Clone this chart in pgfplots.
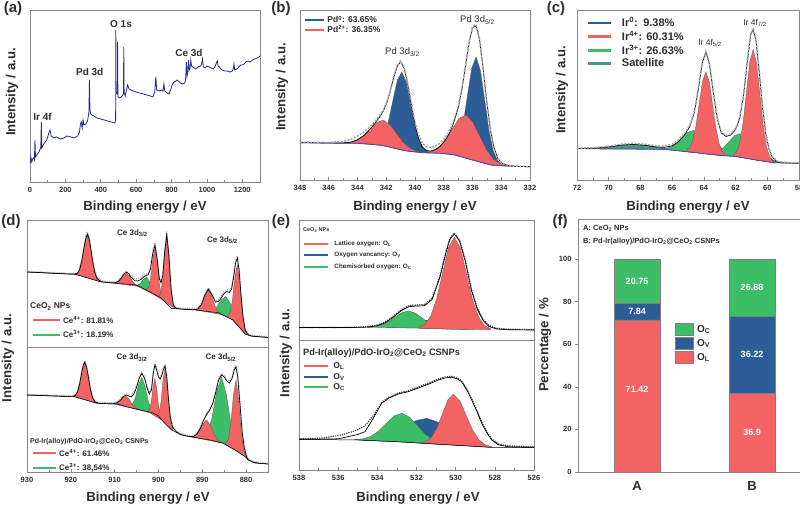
\documentclass[border=0pt]{standalone}
\usepackage{fontspec}
\setmainfont{Liberation Sans}
\usepackage{pgfplots}
\pgfplotsset{compat=1.18}
\definecolor{cred}{RGB}{243,99,99}
\definecolor{cblue}{RGB}{45,93,150}
\definecolor{cgreen}{RGB}{60,190,105}
\definecolor{cteal}{RGB}{70,150,140}
\definecolor{cnavy}{RGB}{35,42,145}
\definecolor{cbg}{RGB}{85,70,175}
\definecolor{ctxt}{RGB}{45,45,45}
\definecolor{cframe}{RGB}{135,135,135}
\newcommand{\fs}[1]{\fontsize{#1}{#1}\selectfont}
\pgfplotsset{
 base/.style={scale only axis, anchor=south west, no markers,
   axis line style={draw=cframe, line width=0.8pt},
   tick style={draw=cframe, line width=0.6pt},
   major tick length=2.5pt, minor tick length=1.5pt,
   ytick=\empty, xtick pos=bottom, xtick align=inside,
   tick label style={font=\fs{7.5}\bfseries, text=ctxt},
   xticklabel style={yshift=-2pt},
   /pgf/number format/assume math mode=true,
   /pgf/number format/set thousands separator={},
   enlargelimits=false, legend cell align=left},
 comp/.style={fill=#1, draw=black!65, line width=0.3pt},
 env/.style={black, line width=0.7pt},
 datb/.style={gray!70, line width=1.5pt, dash pattern=on 2pt off 1.4pt},
 datd/.style={gray!65, line width=1.7pt, line cap=round, dash pattern=on 0pt off 2.3pt},
 legl/.style={legend style={draw=none, fill=none, inner sep=0pt, outer sep=0pt, row sep=#1, nodes={inner sep=0.5pt, text=ctxt}}},
}
\begin{document}
\begin{tikzpicture}[x=1pt,y=1pt]
\useasboundingbox (0,0) rectangle (800,510);

% ---------------- (a) survey
\begin{axis}[base, at={(30pt,328pt)}, width=230pt, height=172pt, xmin=0, xmax=1300, ymin=0, ymax=172,
  xtick={0,200,...,1200}, minor x tick num=1]
\addplot[cnavy, line width=0.8pt] coordinates {(0,18) (5,25) (10,20) (15,23) (20,24) (25,22) (28,42) (31,25) (40,27) (50,30) (58,33) (61,35) (64,60) (67,34) (75,37) (85,40) (95,42) (105,48) (113,52) (120,46) (135,44) (150,45) (170,43) (190,44) (210,46) (230,45) (250,44) (270,46) (280,50) (285,58) (290,60) (295,54) (300,62) (305,57) (315,58) (325,61) (333,70) (336,102) (339,72) (343,68) (350,67) (360,66) (380,64) (400,63) (420,62) (440,61) (460,60) (480,59) (484,62) (485,152) (487,90) (494,88) (495,140) (497,85) (505,84) (515,85) (524,87) (528,88) (530,135) (532,90) (538,86) (545,92) (552,97) (560,93) (570,92) (585,91) (600,90) (620,89) (640,88) (660,87) (680,86) (695,85) (705,90) (711,105) (716,92) (730,91) (745,92) (752,91) (757,98) (762,91) (775,89) (786,88) (795,92) (805,98) (815,100) (833,102) (850,99) (862,98) (875,99) (880,104) (884,120) (888,106) (892,110) (896,122) (900,112) (905,114) (909,122) (913,116) (920,115) (930,114) (937,113) (950,115) (965,116) (970,118) (975,123) (980,115) (990,114) (1000,116) (1012,115) (1025,114) (1035,113) (1045,115) (1050,117) (1055,120) (1059,121) (1063,116) (1070,115) (1085,112) (1100,111) (1115,111) (1130,110) (1144,111) (1150,114) (1153,118) (1157,112) (1170,113) (1180,115) (1191,117) (1200,117) (1210,118) (1219,120) (1230,121) (1245,120) (1257,122) (1270,123) (1285,124) (1294,125) (1300,126)};
\end{axis}

% ---------------- (b) Pd 3d
\begin{axis}[base, at={(300pt,330pt)}, width=230pt, height=170pt, x dir=reverse, xmin=332, xmax=348, ymin=0, ymax=170,
  xtick={332,334,...,348}, minor x tick num=1, legl=0pt,
  legend style={at={(0.017,0.968)}, anchor=north west, font=\fs{8.5}\bfseries, /tikz/every odd column/.append style={column sep=2pt}},
  legend image code/.code={\draw[#1, line width=2pt] (0pt,0pt) -- (19pt,0pt);}]
\addlegendimage{cblue}\addlegendentry{Pd\textsuperscript{0}: 63.65\%}
\addlegendimage{cred}\addlegendentry{Pd\textsuperscript{2+}: 36.35\%}
\addplot[comp=cblue] coordinates {(342.78,36.14) (342.47,38.32) (342.16,44.78) (341.85,58.51) (341.54,79.44) (341.23,99.93) (340.92,108.04) (340.61,97.99) (340.30,75.94) (339.99,53.45) (339.68,38.15) (339.37,30.66) (339.06,27.97) (339.06,27.1) (339.5,27.3) (340.7,29.3) (342.3,34.7) (342.78,35.27)} -- cycle;
\addplot[comp=cred] coordinates {(344.9,37.12) (344.45,37.89) (344.0,40.15) (343.55,44.45) (343.1,51.11) (342.65,57.61) (342.2,59.86) (341.75,55.34) (341.3,46.8) (340.85,38.09) (340.4,32.25) (339.95,29.17) (339.5,27.58) (339.5,27.3) (340.7,29.3) (342.3,34.7) (344,36.7) (344.9,36.84)} -- cycle;
\addplot[comp=cblue] coordinates {(337.55,26.75) (337.25,29.66) (336.95,38.03) (336.65,56.48) (336.35,84.54) (336.05,111.99) (335.75,123.04) (335.45,109.66) (335.15,79.81) (334.85,49.35) (334.55,28.92) (334.25,19.12) (333.95,15.4) (333.95,14.25) (334.7,15) (336,20) (337.2,25) (337.55,25.6)} -- cycle;
\addplot[comp=cred] coordinates {(339.3,27.69) (338.825,28.88) (338.35,32.59) (337.875,40.11) (337.4,51.42) (336.925,61.8) (336.45,64.88) (335.975,57.85) (335.5,44.16) (335.025,30.21) (334.55,20.67) (334.075,16.27) (333.6,14.44) (333.6,13.96) (333.7,14) (334.7,15) (336,20) (337.2,25) (338.2,26.7) (339.3,27.21)} -- cycle;
\addplot[cbg, line width=0.9pt] coordinates {(348,37.3) (344,36.7) (342.3,34.7) (340.7,29.3) (339.5,27.3) (338.2,26.7) (337.2,25) (336,20) (334.7,15) (333.7,14) (332,13.3)};
\addplot[env] coordinates {(348,37.3) (346,37.0) (345,37.05) (344.5,37.74) (344,40.15) (343.5,45.09) (343,52.99) (342.5,62.09) (342.2,69.13) (342,75.67) (341.75,87.18) (341.5,101.23) (341.25,113.45) (341,118.13) (340.75,111.46) (340.5,95.25) (340.25,74.49) (340,55.37) (339.75,41.47) (339.5,33.25) (339.25,29.82) (339,28.88) (338.75,29.43) (338.5,31.03) (338.25,33.86) (338,37.81) (337.75,43.2) (337.5,50.33) (337.25,59.82) (337,71.99) (336.75,89.54) (336.5,112.21) (336.25,136.18) (336,152.5) (335.75,154) (335.5,139.51) (335.25,109.98) (335,77.17) (334.75,49.8) (334.5,31.9) (334.25,22.06) (334,17.33) (333.5,14.36) (333,13.71) (332,13.3)};
\addplot[datb] coordinates {(348,37.8) (346,37.6) (345,38.5) (344.5,40.5) (344,44) (343.5,48.5) (343,55) (342.5,63.5) (342.2,70) (342,76.5) (341.75,88) (341.5,102) (341.25,114) (341,119) (340.75,112.5) (340.5,97) (340.25,77) (340,58) (339.75,45) (339.5,37) (339.25,33.5) (339,32.5) (338.75,33) (338.5,34.5) (338.25,37) (338,40.5) (337.75,45.5) (337.5,52.5) (337.25,61.5) (337,73.5) (336.75,91) (336.5,113.5) (336.25,137) (336,153.5) (335.75,155.5) (335.5,140) (335.25,110) (335,77) (334.75,50) (334.5,32) (334.25,22) (334,17.5) (333.5,14.5) (333,13.8) (332,13.4)};
\end{axis}

% ---------------- (c) Ir 4f
\begin{axis}[base, at={(577pt,330pt)}, width=222pt, height=170pt, x dir=reverse, xmin=58, xmax=72, ymin=0, ymax=170,
  xtick={58,60,...,72}, minor x tick num=1, legl=2pt,
  legend style={at={(0.045,0.959)}, anchor=north west, font=\fs{11}\bfseries, /tikz/every odd column/.append style={column sep=9pt}},
  legend image code/.code={\draw[#1, line width=2.5pt] (0pt,0pt) -- (23pt,0pt);}]
\addlegendimage{cblue}\addlegendentry{Ir\textsuperscript{0}:\enspace 9.38\%}
\addlegendimage{cred}\addlegendentry{Ir\textsuperscript{4+}: 60.31\%}
\addlegendimage{cgreen}\addlegendentry{Ir\textsuperscript{3+}: 26.63\%}
\addlegendimage{cteal}\addlegendentry{Satellite}
\addplot[comp=cteal] coordinates {(72.05,31.35) (71.45,31.45) (70.85,31.81) (70.25,32.64) (69.65,33.89) (69.05,35.13) (68.45,35.61) (67.85,35.0) (67.25,33.63) (66.65,32.25) (66.05,30.58) (65.45,29.13) (64.85,27.95) (64.85,27.9) (66.5,30.7) (72.05,31.3)} -- cycle;
\addplot[comp=cblue] coordinates {(64.65,27.68) (64.425,27.65) (64.2,28.26) (63.975,29.94) (63.75,32.64) (63.525,35.29) (63.3,36.18) (63.075,34.55) (62.85,31.21) (62.625,27.82) (62.4,25.44) (62.175,24.14) (61.95,23.49) (61.95,23.37) (63.2,25) (64.5,27.3) (64.65,27.56)} -- cycle;
\addplot[comp=cblue] coordinates {(61.73,22.94) (61.505,22.63) (61.28,22.89) (61.055,24.06) (60.83,26.12) (60.605,28.14) (60.38,28.71) (60.155,27.04) (59.93,23.87) (59.705,20.64) (59.48,18.55) (59.255,17.59) (59.03,17.2) (59.03,17.09) (59.6,17.3) (60.7,20) (61.73,22.83)} -- cycle;
\addplot[comp=cgreen] coordinates {(66.77,30.97) (66.42,31.53) (66.07,32.95) (65.72,36.51) (65.37,42.12) (65.02,47.6) (64.67,49.59) (64.32,46.4) (63.97,39.7) (63.62,32.88) (63.27,28.1) (62.92,25.6) (62.57,24.42) (62.57,24.18) (63.2,25) (64.5,27.3) (66.5,30.7) (66.77,30.73)} -- cycle;
\addplot[comp=cgreen] coordinates {(63.82,26.36) (63.47,26.51) (63.12,28.08) (62.77,32.07) (62.42,38.23) (62.07,44.26) (61.72,46.31) (61.37,42.58) (61.02,35.13) (60.67,27.56) (60.32,22.25) (59.97,19.24) (59.62,17.61) (59.62,17.35) (60.7,20) (61.9,23.3) (63.2,25) (63.82,26.1)} -- cycle;
\addplot[comp=cred] coordinates {(65.13,29.28) (64.92,31.61) (64.71,38.75) (64.50,53.93) (64.29,76.66) (64.08,98.93) (63.87,108.19) (63.66,98.18) (63.45,75.17) (63.24,51.7) (63.03,35.87) (62.82,28.1) (62.61,25.14) (62.61,24.23) (63.2,25) (64.5,27.3) (65.13,28.37)} -- cycle;
\addplot[comp=cred] coordinates {(62.15,24.85) (61.94,28.18) (61.73,37.71) (61.52,57.98) (61.31,88.4) (61.10,118.18) (60.89,130.52) (60.68,117.03) (60.47,86.16) (60.26,54.64) (60.05,33.28) (59.84,22.72) (59.63,18.59) (59.63,17.37) (60.7,20) (61.9,23.3) (62.15,23.63)} -- cycle;
\addplot[cbg, line width=0.8pt] coordinates {(72,31.3) (66.5,30.7) (64.5,27.3) (63.2,25) (61.9,23.3) (60.7,20) (59.6,17.3) (58,16.7)};
\addplot[env] coordinates {(72,31.36) (71,31.68) (70,33.12) (69.2,34.86) (68.45,35.61) (67.7,34.7) (67,33.02) (66.5,32.69) (66,34.05) (65.6,38.48) (65.2,45.55) (64.9,52.91) (64.6,67.62) (64.35,90.32) (64.1,117) (63.87,127.5) (63.65,116) (63.4,87) (63.15,61) (62.9,47) (62.6,43.5) (62.3,45) (62.0,50.5) (61.75,61) (61.5,84) (61.25,119.5) (61.05,145) (60.89,151) (60.7,138) (60.5,106.5) (60.3,72.38) (60.1,46.79) (59.9,31.06) (59.7,22.94) (59.4,18.33) (59.0,17.17) (58.5,16.89) (58,16.7)};
\addplot[datb] coordinates {(72,31.8) (71,32.2) (70,33.8) (69.2,35.8) (68.45,36.6) (67.7,35.8) (67,34.2) (66.5,34) (66,35.6) (65.6,40) (65.2,47) (64.9,54.5) (64.6,69) (64.35,91.5) (64.1,118) (63.87,128.5) (63.65,117) (63.4,88) (63.15,62) (62.9,48) (62.6,44.5) (62.3,46) (62.0,51.5) (61.75,62) (61.5,85) (61.25,120.5) (61.05,146) (60.89,152) (60.7,139) (60.5,107.5) (60.3,73.5) (60.1,47.8) (59.9,32) (59.7,23.8) (59.4,19) (59.0,17.6) (58.5,17.2) (58,17)};
\end{axis}

% ---------------- (d) top : CeO2
\begin{axis}[base, at={(27pt,163pt)}, width=241pt, height=127pt, x dir=reverse, xmin=875, xmax=930, ymin=0, ymax=127,
  xtick=\empty, legl=4.9pt,
  legend style={at={(0.0195,0.246)}, anchor=north west, font=\fs{8}\bfseries, /tikz/every odd column/.append style={column sep=2pt}},
  legend image code/.code={\draw[#1, line width=2pt] (0pt,0pt) -- (27pt,0pt);}]
\addlegendimage{cred}\addlegendentry{Ce\textsuperscript{4+}: 81.81\%}
\addlegendimage{cgreen}\addlegendentry{Ce\textsuperscript{3+}: 18.19\%}
\addplot[comp=cgreen] coordinates {(905.55,62.35) (904.84,61.78) (904.125,63.6) (903.41,67.92) (902.7,69.74) (901.99,64.93) (901.275,57.63) (900.56,52.83) (899.85,50.42) (899.85,50.27) (905.55,62.2)} -- cycle;
\addplot[comp=cgreen] coordinates {(888.5,35.63) (887.525,36.48) (886.55,40.87) (885.575,47.63) (884.6,50.44) (883.625,43.44) (882.65,31.74) (881.675,21.97) (880.7,15.72) (880.7,15.5) (883,27) (886.4,34.3) (888.5,35.41)} -- cycle;
\addplot[comp=cred] coordinates {(918.9,73.05) (918.225,75.11) (917.55,84.78) (916.875,102.4) (916.2,112.07) (915.525,100.65) (914.85,81.27) (914.175,69.86) (913.5,66.04) (913.5,65.56) (918.9,72.57)} -- cycle;
\addplot[comp=cred] coordinates {(910.3,64.06) (909.55,64.41) (908.8,66.78) (908.05,71.29) (907.3,73.67) (906.55,70.41) (905.8,65.02) (905.05,61.77) (904.3,60.54) (904.3,60.41) (910.3,63.93)} -- cycle;
\addplot[comp=cred] coordinates {(902.75,57.39) (902.26,59.31) (901.775,69.53) (901.29,88.45) (900.8,98.67) (900.31,85.85) (899.825,64.33) (899.34,51.51) (898.85,46.99) (898.85,46.47) (902.75,56.87)} -- cycle;
\addplot[comp=cred] coordinates {(899.9,51.13) (899.45,54.25) (899.0,69.31) (898.55,96.87) (898.1,111.94) (897.65,93.86) (897.2,63.28) (896.75,45.2) (896.3,39.06) (896.3,38.31) (899.9,50.38)} -- cycle;
\addplot[comp=cred] coordinates {(891.6,37.25) (890.85,38.22) (890.1,43.11) (889.35,52.1) (888.6,56.99) (887.85,51.0) (887.1,40.89) (886.35,34.9) (885.6,32.83) (885.6,32.58) (891.6,37.0)} -- cycle;
\addplot[comp=cred] coordinates {(884.25,30.35) (883.69,33.26) (883.125,46.75) (882.56,70.09) (882.0,82.0) (881.44,64.49) (880.875,35.86) (880.31,18.33) (879.75,12.92) (879.75,12.25) (880.2,13) (883,27) (884.25,29.68)} -- cycle;
\addplot[black, line width=0.5pt] coordinates {(930,75) (919,72.7) (913.3,65.3) (910.5,64) (905,62) (899.6,49.7) (897,38.5) (891.5,37) (886.4,34.3) (883,27) (880.2,13) (879,11) (875,9.5)};
\addplot[datd] coordinates {(930,75.5) (926,74.8) (922,74) (920,73.6) (919,73.8) (918.5,74.5) (918,78.5) (917.5,87.5) (917,100.5) (916.6,110) (916.2,114.5) (915.8,109.5) (915.4,98.5) (915,86.5) (914.5,75.5) (914,69.5) (913,66.2) (912,65.6) (911,65.2) (910,65.1) (909,67.2) (908.3,71.2) (907.8,74.2) (907.3,75.8) (906.8,74.5) (906.2,71) (905.5,68.5) (904.8,68) (904,69.5) (903.4,71.5) (902.8,73) (902.3,74) (901.8,80) (901.3,95) (900.8,103.5) (900.3,89.5) (899.8,70) (899.4,65.5) (899,73.5) (898.6,95.5) (898.1,114) (897.6,91.5) (897.1,58) (896.6,43.5) (896,39.6) (895,39) (894,38.7) (893,38.4) (892,38.2) (891,39) (890.2,43.5) (889.4,53) (888.6,59) (887.8,53.5) (887,46.5) (886.3,47.5) (885.6,51.5) (885,55.5) (884.4,57.5) (883.8,56.5) (883.3,60) (882.8,73) (882.4,86) (882,91) (881.6,79) (881.2,56) (880.7,31.5) (880.2,18) (879.5,13) (878.5,11.6) (877,11) (875,10.3)};
\addplot[env] coordinates {(930,75) (926,74.2) (922,73.3) (920,72.9) (919,73.04) (918.5,73.68) (918,77.22) (917.5,85.89) (917,99.08) (916.6,108.54) (916.2,113) (915.8,108) (915.4,97.0) (915,85.17) (914.5,74.07) (914,68.37) (913,65.24) (912,64.7) (911,64.24) (910,64.12) (909,66.16) (908.3,70.17) (907.8,73.17) (907.3,74.8) (906.8,73.3) (906.2,69.5) (905.5,66.5) (904.8,66) (904,67.5) (903.4,70) (902.8,71.5) (902.3,72.5) (901.8,78.5) (901.3,93.5) (900.8,102) (900.3,88) (899.8,68.5) (899.4,64) (899,72) (898.6,94) (898.1,112.5) (897.6,90) (897.1,56.5) (896.6,42) (896,38.6) (895,38) (894,37.7) (893,37.4) (892,37.2) (891,38) (890.2,42.5) (889.4,52.05) (888.6,57.85) (887.8,52.3) (887,45) (886.3,45.5) (885.6,49.5) (885,53.5) (884.4,55.5) (883.8,54.5) (883.3,58) (882.8,71) (882.4,84) (882,89) (881.6,77) (881.2,54.5) (880.7,30) (880.2,16.8) (879.5,12.06) (878.5,10.81) (877,10.25) (875,9.5)};
\end{axis}

% ---------------- (d) bottom : CSNPs
\begin{axis}[base, at={(27pt,38pt)}, width=241pt, height=125pt, x dir=reverse, xmin=875, xmax=930, ymin=0, ymax=125,
  xtick={880,890,...,930}, minor x tick num=1, legl=4.9pt,
  legend style={at={(0.0195,0.186)}, anchor=north west, font=\fs{8}\bfseries, /tikz/every odd column/.append style={column sep=2pt}},
  legend image code/.code={\draw[#1, line width=2pt] (0pt,0pt) -- (23pt,0pt);}]
\addlegendimage{cred}\addlegendentry{Ce\textsuperscript{4+}: 61.46\%}
\addlegendimage{cgreen}\addlegendentry{Ce\textsuperscript{3+}: 38.54\%}
\addplot[comp=cgreen] coordinates {(906.8,65.22) (906.05,66.63) (905.3,73.91) (904.55,87.36) (903.8,94.66) (903.05,85.62) (902.3,70.42) (901.55,61.39) (900.8,58.24) (900.8,57.87) (906.8,64.85)} -- cycle;
\addplot[comp=cgreen] coordinates {(890.1,34.09) (888.975,37.81) (887.85,53.05) (886.725,80.2) (885.6,95.14) (884.475,76.72) (883.35,45.54) (882.225,26.45) (881.1,18.65) (881.1,17.92) (882.5,22) (885.2,28.7) (888.2,32) (890.1,33.36)} -- cycle;
\addplot[comp=cred] coordinates {(919.35,75.76) (918.71,77.5) (918.075,85.82) (917.44,101.01) (916.8,109.33) (916.16,99.4) (915.525,82.59) (914.89,72.67) (914.25,69.31) (914.25,68.9) (919.35,75.35)} -- cycle;
\addplot[comp=cred] coordinates {(910.4,68.26) (909.65,68.26) (908.9,70.17) (908.15,74.07) (907.4,75.98) (906.65,72.59) (905.9,67.21) (905.15,63.82) (904.4,62.34) (904.4,62.22) (910.4,68.14)} -- cycle;
\addplot[comp=cred] coordinates {(902.45,60.8) (902.04,62.28) (901.625,70.43) (901.21,85.55) (900.8,93.69) (900.39,83.35) (899.975,66.04) (899.56,55.7) (899.15,52.02) (899.15,51.6) (902.45,60.38)} -- cycle;
\addplot[comp=cred] coordinates {(900.3,57.31) (899.85,59.13) (899.4,70.62) (898.95,92.23) (898.5,103.72) (898.05,88.4) (897.6,62.95) (897.15,47.62) (896.7,41.96) (896.7,41.35) (900.3,56.7)} -- cycle;
\addplot[comp=cred] coordinates {(892.6,35.38) (891.7,35.97) (890.8,40.09) (889.9,47.92) (889.0,52.04) (888.1,46.36) (887.2,36.97) (886.3,31.29) (885.4,29.14) (885.4,28.92) (892.6,35.16)} -- cycle;
\addplot[comp=cred] coordinates {(884.7,28.24) (884.1,31.59) (883.5,47.4) (882.9,76.28) (882.3,92.02) (881.7,72.96) (881.1,40.84) (880.5,21.79) (879.9,14.67) (879.9,13.89) (880.2,15.3) (882.5,22) (884.7,27.46)} -- cycle;
\addplot[black, line width=0.5pt] coordinates {(930,77) (919,75.3) (914.1,68.7) (909.5,68) (906.5,64.5) (904.2,62) (901.5,59.5) (900,56) (898.9,50.3) (897,42) (894.7,37) (892.8,35.3) (888.2,32) (885.2,28.7) (882.5,22) (880.2,15.3) (879.5,12) (878,9) (875,8)};
\addplot[datd] coordinates {(930,77.6) (925,76.9) (921,76.3) (919.5,76.4) (919,77.5) (918.5,80.8) (918,89) (917.5,101) (917.1,109) (916.8,111.3) (916.4,106.5) (916,96.5) (915.5,83.5) (915,75) (914.5,71.3) (913.5,69.6) (912,69.3) (910.5,69.2) (909.5,70.2) (908.7,72.8) (908,76.5) (907.4,78.2) (906.8,77.4) (906.2,76.8) (905.6,80) (905,86.5) (904.4,95) (903.8,99.8) (903.2,95.5) (902.6,85.5) (902.1,79.5) (901.6,83.5) (901.2,99.5) (900.8,108.5) (900.4,103.5) (900,96.5) (899.6,94.5) (899.2,98.5) (898.9,103.5) (898.5,107.5) (898.1,96.5) (897.7,73.5) (897.3,56.5) (896.8,46.5) (896,41.7) (895,38.8) (894,37.4) (893,36.6) (892,36.7) (891.2,39) (890.4,45.5) (889.7,53) (889,59) (888.3,63.5) (887.6,70) (886.9,81.8) (886.3,93) (885.6,98.5) (885,96.5) (884.4,92.5) (883.8,90.5) (883.2,95) (882.7,103.5) (882.3,106.5) (881.9,96.5) (881.4,69.5) (880.9,41.5) (880.4,25.5) (879.9,16.5) (879.5,13) (878.5,10.8) (877,9.5) (875,8.8)};
\addplot[env] coordinates {(930,77) (925,76.2) (921,75.6) (919.5,75.62) (919,76.6) (918.5,79.66) (918,87.72) (917.5,99.77) (917.1,107.69) (916.8,110) (916.4,105.09) (916,95.14) (915.5,82.12) (915,73.85) (914.5,70.18) (913.5,68.63) (912,68.38) (910.5,68.24) (909.5,69.19) (908.7,71.71) (908,75.5) (907.4,77) (906.8,76) (906.2,75) (905.6,78) (905,84.5) (904.4,93.5) (903.8,98.5) (903.2,94) (902.6,84) (902.1,78) (901.6,82) (901.2,98) (900.8,107) (900.4,102) (900,95) (899.6,93) (899.2,97) (898.9,102) (898.5,106) (898.1,95) (897.7,72) (897.3,55) (896.8,45) (896,40.5) (895,37.65) (894,36.37) (893,35.56) (892,35.61) (891.2,37.93) (890.4,44.1) (889.7,51.55) (889,57.6) (888.3,62.02) (887.6,68.55) (886.9,80.2) (886.3,91.5) (885.6,97) (885,95) (884.4,91) (883.8,89) (883.2,93.5) (882.7,102) (882.3,105) (881.9,95) (881.4,68) (880.9,40) (880.4,24) (879.9,15.5) (879.5,12.1) (878.5,10) (877,8.67) (875,8)};
\end{axis}

% ---------------- (e) top : CeO2
\begin{axis}[base, at={(299pt,170pt)}, width=235pt, height=120pt, x dir=reverse, xmin=526, xmax=538, ymin=0, ymax=120,
  xtick=\empty, legl=4.2pt,
  legend style={at={(0.017,0.827)}, anchor=north west, font=\fs{6.3}\bfseries, /tikz/every odd column/.append style={column sep=5pt}},
  legend image code/.code={\draw[#1, line width=2pt] (0pt,0pt) -- (24pt,0pt);}]
\addlegendimage{cred}\addlegendentry{Lattice oxygen: O\textsubscript{L}}
\addlegendimage{cblue}\addlegendentry{Oxygen vancancy: O\textsubscript{V}}
\addlegendimage{cgreen}\addlegendentry{Chemisorbed oxygen: O\textsubscript{C}}
\addplot[comp=cblue] coordinates {(533.5,12.47) (533.15,12.65) (532.8,13.31) (532.45,14.77) (532.1,17.0) (531.75,19.07) (531.4,19.8) (531.05,18.61) (530.7,16.1) (530.35,13.59) (530.0,11.88) (529.65,10.97) (529.3,10.53) (529.3,10.44) (530.5,11) (532,12) (533.5,12.38)} -- cycle;
\addplot[comp=cgreen] coordinates {(534.52,12.69) (534.17,13.25) (533.82,14.76) (533.47,17.89) (533.12,22.59) (532.77,27.19) (532.42,29.11) (532.07,27.02) (531.72,22.12) (531.37,17.1) (531.02,13.65) (530.67,11.86) (530.32,11.11) (530.32,10.92) (530.5,11) (532,12) (534,12.5) (534.52,12.5)} -- cycle;
\addplot[comp=cred] coordinates {(531.87,12.93) (531.57,15.75) (531.27,23.96) (530.97,41.18) (530.67,66.91) (530.37,92.13) (530.07,102.8) (529.76,91.84) (529.45,66.31) (529.14,40.24) (528.83,22.73) (528.52,14.29) (528.21,11.24) (528.21,10.22) (529,10.3) (530.5,11) (531.87,11.91)} -- cycle;
\addplot[datd, gray!55!black] coordinates {(538,12.5) (536,12.5) (535,12.8) (534.5,13.4) (534,15) (533.6,18.2) (533.2,23.6) (532.8,30) (532.4,34.3) (532,35) (531.6,35.5) (531.2,41.5) (530.8,64) (530.5,88) (530.3,101.5) (530.07,107) (529.8,100) (529.5,79) (529.2,51) (528.9,32) (528.6,20.5) (528.3,14.5) (527.9,11.8) (527.4,10.8) (526,10.5)};
\addplot[env] coordinates {(538,12.5) (536,12.5) (535,12.6) (534.5,12.9) (534,14.2) (533.6,17.2) (533.2,22.6) (532.8,29) (532.4,33.3) (532,34) (531.6,34.2) (531.2,40.5) (530.8,63) (530.5,87) (530.3,100.5) (530.07,106) (529.8,99) (529.5,78) (529.2,50) (528.9,31) (528.6,19.5) (528.3,13.5) (527.9,11) (527.4,10.3) (526,10)};
\end{axis}

% ---------------- (e) bottom : CSNPs
\begin{axis}[base, at={(299pt,40pt)}, width=235pt, height=130pt, x dir=reverse, xmin=526, xmax=538, ymin=0, ymax=130,
  xtick={526,528,...,538}, minor x tick num=1, legl=2.1pt,
  legend style={at={(0.017,0.83)}, anchor=north west, font=\fs{8.5}\bfseries, /tikz/every odd column/.append style={column sep=4pt}},
  legend image code/.code={\draw[#1, line width=2pt] (0pt,0pt) -- (24pt,0pt);}]
\addlegendimage{cred}\addlegendentry{O\textsubscript{L}}
\addlegendimage{cblue}\addlegendentry{O\textsubscript{V}}
\addlegendimage{cgreen}\addlegendentry{O\textsubscript{C}}
\addplot[comp=cblue] coordinates {(534.78,30.09) (534.23,30.46) (533.68,32.29) (533.13,36.59) (532.58,43.08) (532.03,49.39) (531.48,51.71) (530.93,48.1) (530.38,40.49) (529.83,32.75) (529.28,27.35) (528.73,24.42) (528.18,22.98) (528.18,22.7) (530.2,25) (533,28.3) (534.78,29.81)} -- cycle;
\addplot[comp=cgreen] coordinates {(535.16,30.36) (534.76,31.06) (534.36,33.36) (533.96,38.47) (533.56,46.25) (533.16,53.86) (532.76,56.82) (532.36,52.97) (531.96,44.55) (531.56,35.95) (531.16,30.03) (530.76,26.92) (530.36,25.51) (530.36,25.19) (533,28.3) (535,30) (535.16,30.04)} -- cycle;
\addplot[comp=cred] coordinates {(531.77,27.42) (531.495,28.77) (531.22,33.1) (530.945,42.44) (530.67,56.48) (530.395,70.24) (530.12,75.91) (529.795,69.54) (529.47,55.09) (529.145,40.34) (528.82,30.31) (528.495,25.28) (528.17,23.27) (528.17,22.7) (530.2,25) (531.77,26.85)} -- cycle;
\addplot[datd, gray!55!black] coordinates {(538,31.2) (537,31.6) (536.5,32.8) (536,34.4) (535.5,36.8) (535,40.3) (534.63,44.3) (534.2,54.5) (533.78,67.5) (533.4,73) (532.93,77) (532.42,79.3) (531.73,84.3) (531.3,87.5) (530.89,91) (530.5,93.2) (530.2,93.7) (529.9,92) (529.7,89.3) (529.4,80) (529.18,71) (528.9,59) (528.67,47.7) (528.4,38) (528.16,31) (527.8,26) (527.3,24) (526,23.2)};
\addplot[env] coordinates {(538,30.7) (537,30.8) (536,31.2) (535.5,33.3) (535,35.5) (534.63,38.3) (534.2,52) (533.78,66.7) (533.4,72) (532.93,76) (532.42,78.3) (531.73,83.3) (531.3,86.5) (530.89,90) (530.5,92.2) (530.2,92.7) (529.9,91) (529.7,88.3) (529.4,79) (529.18,70) (528.9,58) (528.67,46.7) (528.4,37) (528.16,30) (527.8,25) (527.3,23.2) (526,22.5)};
\addplot[black, line width=0.5pt] coordinates {(538,30.7) (535,30) (533,28.3) (530.2,25) (528.2,22.7) (526,22.5)};
\end{axis}

% ---------------- (f) bars
\begin{axis}[scale only axis, anchor=south west, at={(578pt,38pt)}, width=222pt, height=253pt,
  xmin=0.487, xmax=2.417, ymin=0, ymax=118.8, ybar stacked, bar width=46pt, enlargelimits=false,
  axis line style={draw=cframe, line width=0.8pt}, tick style={draw=cframe, line width=0.6pt},
  xtick={1,2}, xticklabels={A,B}, xtick align=inside, xtick pos=bottom,
  x tick label style={font=\fs{13}\bfseries, text=ctxt, yshift=-6pt},
  ytick={0,20,...,100}, ytick pos=left, ytick align=outside, major tick length=3pt,
  y tick label style={font=\fs{7.5}\bfseries, text=ctxt},
  /pgf/number format/assume math mode=true,
  reverse legend, legend cell align=left,
  legend style={at={(0.437,0.588)}, anchor=north west, draw=none, fill=none, inner sep=0pt, font=\fs{10}\bfseries, row sep=1.5pt, nodes={inner sep=0.5pt, text=ctxt}, /tikz/every odd column/.append style={column sep=3pt}},
  legend image code/.code={\draw[#1] (0pt,-6pt) rectangle (18pt,6pt);}]
\addplot[fill=cred, draw=gray] coordinates {(1,71.42) (2,36.9)}; \addlegendentry{O\textsubscript{L}}
\addplot[fill=cblue, draw=gray] coordinates {(1,7.84) (2,36.22)}; \addlegendentry{O\textsubscript{V}}
\addplot[fill=cgreen, draw=gray] coordinates {(1,20.75) (2,26.88)}; \addlegendentry{O\textsubscript{C}}
\end{axis}
% bar value labels (text only)
\tikzset{bv/.style={font=\fs{9}\bfseries, text=white}}
\node[bv] at (637,121.0) {71.42};
\node[bv] at (637,198.4) {7.84};
\node[bv] at (637,228.9) {20.75};
\node[bv] at (752,78.0) {36.9};
\node[bv] at (752,155.6) {36.22};
\node[bv] at (752,222.3) {26.88};

% ---------------- texts
\tikzset{lab/.style={font=\fs{15}\bfseries, text=ctxt}, axl/.style={font=\fs{13.2}\bfseries, text=ctxt}}
\node[lab] at (13,501) {(a)};
\node[lab] at (281,501) {(b)};
\node[lab] at (556,501) {(c)};
\node[lab] at (11,288) {(d)};
\node[lab] at (281,288) {(e)};
\node[lab] at (560,288) {(f)};
\node[axl] at (145,303) {Binding energy / eV};
\node[axl] at (415,303) {Binding energy / eV};
\node[axl] at (688,303) {Binding energy / eV};
\node[axl] at (148,12) {Binding energy / eV};
\node[axl] at (418,12) {Binding energy / eV};
\node[axl, rotate=90] at (12,418) {Intensity / a.u.};
\node[axl, rotate=90] at (282,423) {Intensity / a.u.};
\node[axl, rotate=90] at (562,420) {Intensity / a.u.};
\node[axl, rotate=90] at (8,152) {Intensity / a.u.};
\node[axl, rotate=90] at (286,157) {Intensity / a.u.};
\node[axl, rotate=90] at (545,165) {Percentage / \%};
% (a) peaks
\node[font=\fs{10}\bfseries, text=ctxt] at (42.5,393) {Ir 4f};
\node[font=\fs{10}\bfseries, text=ctxt] at (89.7,438) {Pd 3d};
\node[font=\fs{10}\bfseries, text=ctxt] at (121,486) {O 1s};
\node[font=\fs{10}\bfseries, text=ctxt] at (189,457.5) {Ce 3d};
% (b) peaks
\node[font=\fs{9.5}, text=ctxt] at (402.5,458) {Pd 3d\textsubscript{3/2}};
\node[font=\fs{9.5}, text=ctxt] at (477.5,490) {Pd 3d\textsubscript{5/2}};
% (c) peaks
\node[font=\fs{8.5}, text=ctxt] at (710,467) {Ir 4f\textsubscript{5/2}};
\node[font=\fs{8.5}, text=ctxt] at (755,487) {Ir 4f\textsubscript{7/2}};
% (d) peaks and titles
\node[font=\fs{8}\bfseries, text=ctxt] at (132.5,277) {Ce 3d\textsubscript{3/2}};
\node[font=\fs{8}\bfseries, text=ctxt] at (222.5,270) {Ce 3d\textsubscript{5/2}};
\node[font=\fs{8}\bfseries, text=ctxt] at (132,152.5) {Ce 3d\textsubscript{3/2}};
\node[font=\fs{8}\bfseries, text=ctxt] at (221,152.5) {Ce 3d\textsubscript{5/2}};
\node[font=\fs{8.5}\bfseries, text=ctxt, anchor=west, inner sep=0pt] at (30,203.3) {CeO\textsubscript{2} NPs};
\node[font=\fs{7}\bfseries, text=ctxt, anchor=west, inner sep=0pt] at (30,68.3) {Pd-Ir(alloy)/PdO-IrO\textsubscript{2}@CeO\textsubscript{2} CSNPs};
% (e) titles
\node[font=\fs{5.5}\bfseries, text=ctxt, anchor=west, inner sep=0pt] at (303,280) {CeO\textsubscript{2} NPs};
\node[font=\fs{9.3}\bfseries, text=ctxt, anchor=west, inner sep=0pt] at (303,157.3) {Pd-Ir(alloy)/PdO-IrO\textsubscript{2}@CeO\textsubscript{2} CSNPs};
% (f) titles
\node[font=\fs{7.5}\bfseries, text=ctxt, anchor=west, inner sep=0pt] at (583,281.7) {A: CeO\textsubscript{2} NPs};
\node[font=\fs{7.5}\bfseries, text=ctxt, anchor=west, inner sep=0pt] at (583,268.3) {B: Pd-Ir(alloy)/PdO-IrO\textsubscript{2}@CeO\textsubscript{2} CSNPs};
\end{tikzpicture}
\end{document}
